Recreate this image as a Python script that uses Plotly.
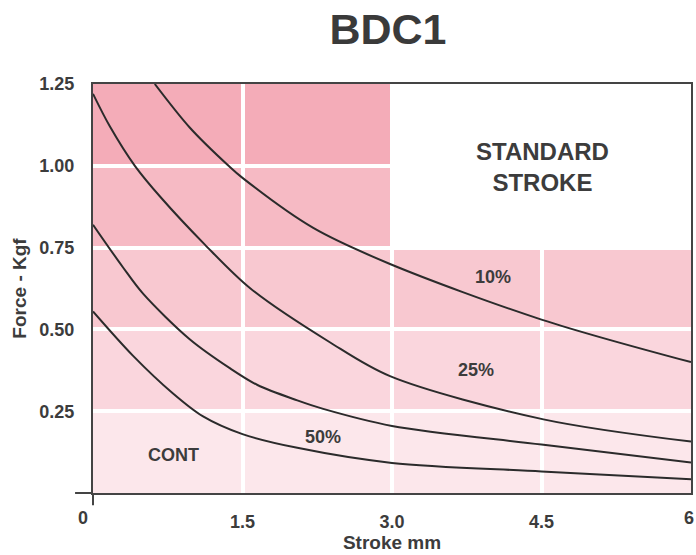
import plotly.graph_objects as go

# ---- data ----
x_10 = [0.62, 0.97, 1.36, 1.5, 2.21, 2.98, 4.5, 6.0]
y_10 = [1.25, 1.117, 1.0, 0.963, 0.81, 0.70, 0.53, 0.40]

x_25 = [0.0, 0.17, 0.42, 0.69, 1.12, 1.58, 2.38, 2.98, 4.52, 6.0]
y_25 = [1.22, 1.12, 1.0, 0.90, 0.76, 0.625, 0.46, 0.357, 0.225, 0.157]

x_50 = [0.0, 0.3, 0.5, 0.97, 1.38, 1.65, 2.05, 2.31, 3.0, 4.5, 6.0]
y_50 = [0.82, 0.69, 0.61, 0.47, 0.38, 0.33, 0.283, 0.257, 0.205, 0.148, 0.093]

x_cont = [0.0, 0.4, 0.8, 1.1, 1.5, 2.05, 3.0, 4.5, 6.0]
y_cont = [0.555, 0.42, 0.305, 0.235, 0.18, 0.138, 0.092, 0.066, 0.042]

curve_names = ["10%", "25%", "50%", "CONT"]

# shaded grid regions
x_edges = [0, 1.5, 3.0, 4.5, 6.0]
y_edges = [0, 0.25, 0.5, 0.75, 1.0, 1.25]
column_top = [1.25, 1.25, 0.75, 0.75]
row_colors = ["rgb(252,231,235)", "rgb(250,214,221)", "rgb(248,200,208)",
              "rgb(246,186,196)", "rgb(244,172,184)"]

x_tick_vals = [0, 1.5, 3.0, 4.5, 6.0]
x_tick_text = ["0", "1.5", "3.0", "4.5", "6"]
y_tick_vals = [0.25, 0.5, 0.75, 1.0, 1.25]
y_tick_text = ["0.25", "0.50", "0.75", "1.00", "1.25"]

label_text = ["10%", "25%", "50%", "CONT", "STANDARD<br>STROKE"]
label_x = [4.01, 3.84, 2.31, 0.81, 4.51]
label_y = [0.66, 0.377, 0.172, 0.117, 0.997]

# ---- figure ----
FONT = "Liberation Sans, Arial, sans-serif"
TXT = "#3c3c3c"
fig = go.Figure()

shapes = []
for ci in range(len(x_edges) - 1):
    for ri in range(len(y_edges) - 1):
        if y_edges[ri + 1] <= column_top[ci] + 1e-9:
            shapes.append(dict(type="rect", xref="x", yref="y",
                               x0=x_edges[ci], x1=x_edges[ci + 1],
                               y0=y_edges[ri], y1=y_edges[ri + 1],
                               fillcolor=row_colors[ri], line=dict(width=0),
                               layer="below"))

# axis extensions past the origin
shapes.append(dict(type="line", xref="paper", yref="paper", x0=0, x1=0,
                   y0=-0.03, y1=0, line=dict(color="#444", width=2)))
shapes.append(dict(type="line", xref="paper", yref="paper", x0=-0.03, x1=0,
                   y0=0, y1=0, line=dict(color="#444", width=2)))

for xs, ys, nm in zip([x_10, x_25, x_50, x_cont], [y_10, y_25, y_50, y_cont], curve_names):
    fig.add_trace(go.Scatter(x=xs, y=ys, mode="lines", name=nm,
                             line=dict(color="#2b2b2b", width=2, shape="spline", smoothing=0.9),
                             cliponaxis=True, showlegend=False, hoverinfo="skip"))

annotations = []
for t, xx, yy in zip(label_text, label_x, label_y):
    big = "STANDARD" in t
    annotations.append(dict(text="<b>" + t + "</b>", x=xx, y=yy, xref="x", yref="y",
                            showarrow=False,
                            font=dict(family=FONT, size=24 if big else 18, color=TXT),
                            align="center"))
# first and last x tick labels placed beside the axis / inside the page
annotations.append(dict(text="<b>" + x_tick_text[0] + "</b>", x=x_tick_vals[0], y=0,
                        xref="x", yref="paper", showarrow=False,
                        xanchor="right", yanchor="top", xshift=-3, yshift=-13,
                        font=dict(family=FONT, size=18, color=TXT)))
annotations.append(dict(text="<b>" + x_tick_text[-1] + "</b>", x=x_tick_vals[-1], y=0,
                        xref="x", yref="paper", showarrow=False,
                        xanchor="right", yanchor="top", xshift=5, yshift=-13,
                        font=dict(family=FONT, size=18, color=TXT)))
mid_text = ["<b>" + t + "</b>" for t in x_tick_text[1:-1]]

fig.update_layout(
    width=696, height=555,
    margin=dict(l=93, r=5, t=84, b=62),
    paper_bgcolor="white", plot_bgcolor="white",
    hovermode=False,
    title=dict(text="<b>BDC1</b>", x=388 / 696, xanchor="center",
               y=1 - 29 / 555, yanchor="middle", yref="container",
               font=dict(family=FONT, size=43, color="#3a3a3a")),
    shapes=shapes, annotations=annotations,
)
fig.update_xaxes(range=[0, 6], tickvals=x_tick_vals, ticktext=[""] + mid_text + [""],
                 showgrid=True, gridcolor="white", gridwidth=4, zeroline=False,
                 showline=True, mirror=True, linecolor="#444", linewidth=2,
                 ticks="", ticklabelstandoff=11, automargin=False,
                 tickfont=dict(family=FONT, size=18, color=TXT),
                 title=dict(text="<b>Stroke mm</b>", standoff=4,
                            font=dict(family=FONT, size=19, color=TXT)))
fig.update_yaxes(range=[0, 1.25], tickvals=y_tick_vals,
                 ticktext=["<b>" + t + "</b>" for t in y_tick_text],
                 showgrid=True, gridcolor="white", gridwidth=4, zeroline=False,
                 showline=True, mirror=True, linecolor="#444", linewidth=2,
                 ticks="", ticklabelstandoff=13, automargin=False,
                 tickfont=dict(family=FONT, size=18, color=TXT),
                 title=dict(text="<b>Force - Kgf</b>", standoff=8,
                            font=dict(family=FONT, size=19, color=TXT)))

fig.write_html("out.html", config={"displayModeBar": False, "staticPlot": True},
               post_script="document.body.style.margin='0px';"
                           "document.body.style.overflow='hidden';")
